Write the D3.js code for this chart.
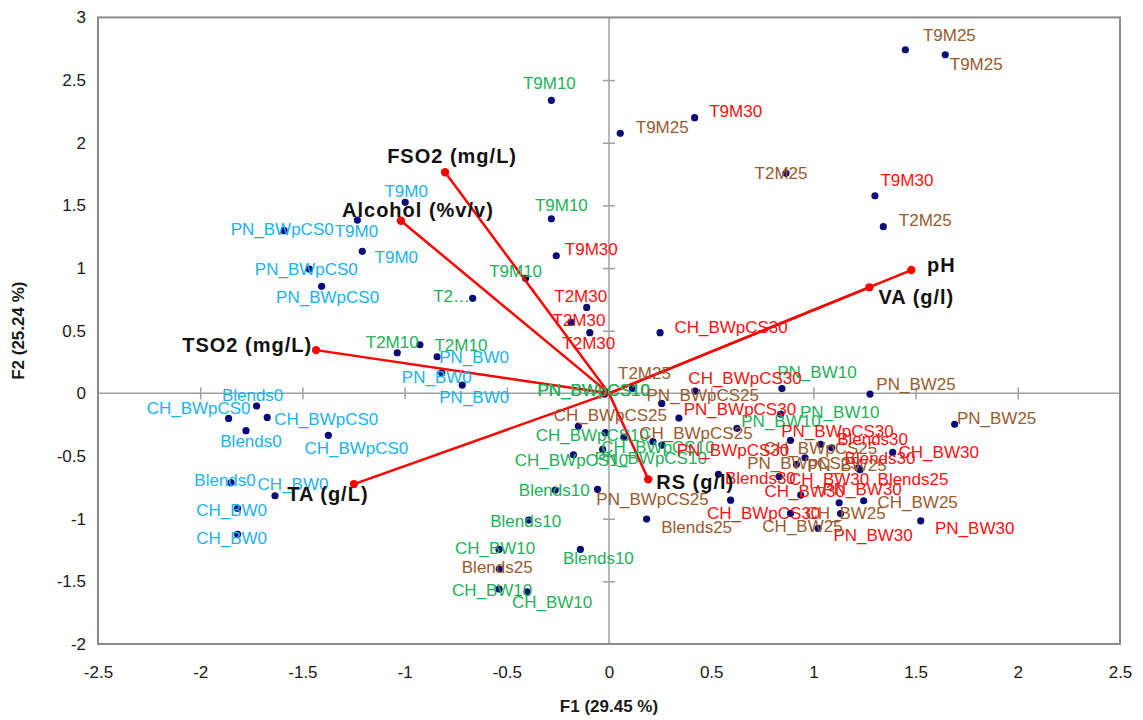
<!DOCTYPE html>
<html><head><meta charset="utf-8">
<script src="https://cdn.jsdelivr.net/npm/d3@7"></script>
<style>body{margin:0;background:#fff}svg{display:block}text{font-family:"Liberation Sans",Arial,sans-serif}</style>
</head><body><svg id="c" width="1143" height="720"></svg>
<script>
// ---- data ----
const sampleNames = [
 "T9M0","T9M0","T9M0","PN_BWpCS0","PN_BWpCS0","PN_BWpCS0","PN_BW0","PN_BW0","PN_BW0",
 "Blends0","Blends0","Blends0","CH_BWpCS0","CH_BWpCS0","CH_BWpCS0","CH_BW0","CH_BW0","CH_BW0",
 "T9M10","T9M10","T9M10","T2M10","T2M10","T2…","PN_BWpCS10","PN_BWpCS10","PN_BWpCS10",
 "CH_BWpCS10","CH_BWpCS10","CH_BWpCS10","Blends10","Blends10","Blends10","CH_BW10","CH_BW10","CH_BW10",
 "PN_BW10","PN_BW10","PN_BW10",
 "T9M25","T9M25","T9M25","T2M25","T2M25","T2M25","PN_BWpCS25","PN_BWpCS25","PN_BWpCS25",
 "CH_BWpCS25","CH_BWpCS25","CH_BWpCS25","Blends25","Blends25","Blends25","CH_BW25","CH_BW25","CH_BW25",
 "PN_BW25","PN_BW25","PN_BW25",
 "T9M30","T9M30","T9M30","T2M30","T2M30","T2M30","CH_BWpCS30","CH_BWpCS30","CH_BWpCS30",
 "PN_BWpCS30","PN_BWpCS30","PN_BWpCS30","Blends30","Blends30","Blends30","CH_BW30","CH_BW30","CH_BW30",
 "PN_BW30","PN_BW30","PN_BW30"
];
const sampleGroup = [].concat(Array(18).fill("0"),Array(21).fill("10"),Array(21).fill("25"),Array(21).fill("30"));
const f1Scores = [
 -0.997,-1.231,-1.207,-1.589,-1.466,-1.406,-0.841,-0.818,-0.718,
 -1.724,-1.776,-1.849,-1.861,-1.672,-1.373,-1.634,-1.817,-1.817,
 -0.282,-0.282,-0.408,-1.036,-0.925,-0.667,-0.022,-0.031,-0.015,
 -0.150,-0.174,0.215,-0.263,-0.393,-0.140,-0.538,-0.538,-0.401,
 0.846,0.840,0.626,
 0.055,1.450,1.645,0.866,1.342,0.115,0.258,-0.056,0.917,
 -0.018,0.073,1.035,-0.537,0.184,1.228,1.246,1.133,0.888,
 1.277,1.691,1.218,
 -0.258,0.419,1.301,-0.109,-0.186,-0.094,0.250,0.421,0.595,
 0.342,0.259,0.888,1.089,0.959,0.535,1.388,0.832,0.938,
 1.525,1.126,1.023
];
const f2Scores = [
 1.524,1.383,1.133,1.298,0.992,0.854,0.292,0.164,0.066,
 -0.101,-0.298,-0.713,-0.200,-0.192,-0.335,-0.817,-0.918,-1.125,
 2.338,1.393,0.918,0.324,0.388,0.758,-0.006,-0.447,0.010,
 -0.261,-0.490,-0.385,-0.772,-1.011,-1.245,-1.245,-1.562,-1.583,
 0.038,-0.165,-0.279,
 2.075,2.742,2.702,1.756,1.330,0.040,-0.080,-0.766,-0.566,
 -0.314,-0.349,-0.406,-1.402,-1.003,-0.610,-0.857,-0.959,-0.958,
 -0.006,-0.247,-0.596,
 1.098,2.200,1.577,0.686,0.567,0.484,0.484,0.018,-0.852,
 -0.197,-0.413,-0.375,-0.434,-0.514,-0.646,-0.471,-0.664,-0.812,
 -1.017,-0.873,-1.077
];
const variableNames = ["FSO2 (mg/L)","Alcohol  (%v/v)","TSO2 (mg/L)","TA (g/L)","RS (g/l)","pH","VA (g/l)"];
const variableF1 = [-0.802,-1.018,-1.433,-1.248,0.192,1.479,1.274];
const variableF2 = [1.764,1.377,0.345,-0.724,-0.686,0.984,0.846];
const xTicks = [-2.5,-2,-1.5,-1,-0.5,0,0.5,1,1.5,2,2.5];
const yTicks = [-2,-1.5,-1,-0.5,0,0.5,1,1.5,2,2.5,3];
const xTitle = "F1 (29.45 %)", yTitle = "F2 (25.24 %)";

// ---- layout (label nudges, px) ----
const labelNudge = [
 [1,-11],[-1,11],[34,6],[-2,-2],[-3,0],[6,11],[37,0],[-5,4],[12,12],
 [-4,-11],[5,10],[-6,-3],[-30,-10],[59,2],[28,13],[18,-12],[-6,2],[-6,4],
 [-2,-17],[10,-14],[-10,-7],[-5,-11],[41,0],[-21,-2],[-11,-4],[48,9],[-12,-2],
 [14,9],[-2,5],[5,5],[-1,0],[-3,1],[18,9],[-4,-1],[-7,1],[25,10],
 [35,-17],[59,-2],[44,-7],
 [42,-6],[44,-15],[31,9],[-5,0],[42,-7],[12,-15],[41,-8],[55,10],[7,-1],
 [5,-18],[72,-4],[0,4],[-2,-2],[50,8],[53,9],[54,1],[5,0],[12,13],
 [46,-10],[42,-6],[-11,-3],
 [35,-7],[41,-7],[32,-16],[-6,-11],[8,-2],[-1,10],[71,-6],[50,-13],[33,13],
 [61,-9],[71,5],[47,-9],[41,-9],[75,0],[42,4],[46,0],[50,2],[4,-4],
 [54,7],[23,-14],[55,7]
];
const labelColorOverride = {53:"30"};
const varNudge = [[7,-16,"middle"],[17,-11,"middle"],[-4,-5,"end"],[-26,10,"middle"],[47,3,"middle"],[30,-5,"middle"],[47,10,"middle"]];
const groupColor = {"0":"#1CB2EE","10":"#1DB15A","25":"#9A5A2E","30":"#FF1010"};

const svg = d3.select("#c");
const L=98,R=1120,T=17.4,B=644;
const x = d3.scaleLinear().domain([-2.5,2.5]).range([L,R]);
const y = d3.scaleLinear().domain([-2,3]).range([B,T]);

// zero axes with crossing ticks
svg.append("line").attr("x1",L).attr("x2",R).attr("y1",y(0)).attr("y2",y(0)).attr("stroke","#a0a0a0").attr("stroke-width",1.5);
svg.append("line").attr("x1",x(0)).attr("x2",x(0)).attr("y1",T).attr("y2",B).attr("stroke","#a0a0a0").attr("stroke-width",1.5);
const gx = svg.append("g").attr("transform",`translate(0,${y(0)-6})`)
  .call(d3.axisBottom(x).tickValues(xTicks.filter(v=>v>-2.5&&v<2.5)).tickSize(12).tickFormat(""));
gx.select(".domain").remove(); gx.selectAll("line").attr("stroke","#a0a0a0").attr("stroke-width",1.5);
const gy = svg.append("g").attr("transform",`translate(${x(0)+6},0)`)
  .call(d3.axisLeft(y).tickValues(yTicks.filter(v=>v>-2&&v<3)).tickSize(12).tickFormat(""));
gy.select(".domain").remove(); gy.selectAll("line").attr("stroke","#a0a0a0").attr("stroke-width",1.5);

// frame
svg.append("rect").attr("x",L).attr("y",T).attr("width",R-L).attr("height",B-T).attr("fill","none").attr("stroke","#8c8c8c").attr("stroke-width",2);

// tick labels
const fmt = v => String(v);
const xl = svg.append("g").attr("transform",`translate(0,${B})`).call(d3.axisBottom(x).tickValues(xTicks).tickSize(0).tickPadding(22).tickFormat(fmt));
xl.select(".domain").remove();
xl.selectAll("text").attr("font-size",17).attr("fill","#1a1a1a").attr("font-family","Liberation Sans, Arial");
const yl = svg.append("g").attr("transform",`translate(${L},0)`).call(d3.axisLeft(y).tickValues(yTicks).tickSize(0).tickPadding(12).tickFormat(fmt));
yl.select(".domain").remove();
yl.selectAll("text").attr("font-size",17).attr("fill","#1a1a1a").attr("font-family","Liberation Sans, Arial");

// titles
svg.append("text").attr("x",(L+R)/2).attr("y",706).attr("dy","0.35em").attr("text-anchor","middle").attr("font-size",17).attr("font-weight","bold").attr("fill","#1a1a1a").text(xTitle);
svg.append("text").attr("transform",`translate(18,${(T+B)/2}) rotate(-90)`).attr("dy","0.35em").attr("text-anchor","middle").attr("font-size",17).attr("font-weight","bold").attr("fill","#1a1a1a").text(yTitle);

// points
const pts = sampleNames.map((n,i)=>({n,g:sampleGroup[i],x:f1Scores[i],y:f2Scores[i],i}));
svg.append("g").selectAll("circle").data(pts).join("circle")
  .attr("cx",d=>x(d.x)).attr("cy",d=>y(d.y)).attr("r",3.6).attr("fill","#0A0A78");

// vectors
const vars = variableNames.map((n,i)=>({n,x:variableF1[i],y:variableF2[i],i}));
svg.append("g").selectAll("line").data(vars).join("line")
  .attr("x1",x(0)).attr("y1",y(0)).attr("x2",d=>x(d.x)).attr("y2",d=>y(d.y))
  .attr("stroke","#FF0000").attr("stroke-width",2.5);
svg.append("g").selectAll("circle").data(vars).join("circle")
  .attr("cx",d=>x(d.x)).attr("cy",d=>y(d.y)).attr("r",4.2).attr("fill","#FF0000");

// sample labels
svg.append("g").selectAll("text").data(pts).join("text")
  .attr("x",d=>x(d.x)+labelNudge[d.i][0]).attr("y",d=>y(d.y)+labelNudge[d.i][1]).attr("dy","0.35em")
  .attr("text-anchor","middle").attr("font-size",17)
  .attr("fill",d=>groupColor[labelColorOverride[d.i]||d.g]).text(d=>d.n);

// variable labels
svg.append("g").selectAll("text").data(vars).join("text")
  .attr("x",d=>x(d.x)+varNudge[d.i][0]).attr("y",d=>y(d.y)+varNudge[d.i][1]).attr("dy","0.35em")
  .attr("text-anchor",d=>varNudge[d.i][2]).attr("font-size",20).attr("font-weight","bold").attr("letter-spacing",1)
  .attr("fill","#111").text(d=>d.n);
</script></body></html>
